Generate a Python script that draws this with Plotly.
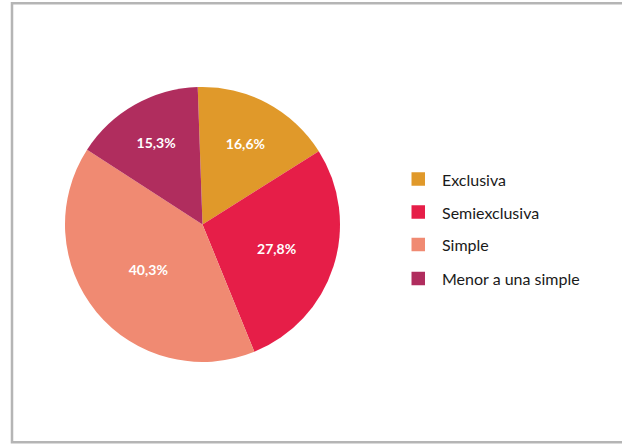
import plotly.graph_objects as go

categories = ["Exclusiva", "Semiexclusiva", "Simple", "Menor a una simple"]
values = [16.6, 27.8, 40.3, 15.3]
colors = ["#E0992A", "#E61E48", "#F08A72", "#B02D5E"]

W, H = 622, 444

def px(x):
    return x / W

def py(y):
    return 1 - y / H

fig = go.Figure(go.Pie(
    labels=categories,
    values=values,
    sort=False,
    direction="clockwise",
    rotation=-2,
    marker=dict(colors=colors, line=dict(width=0)),
    texttemplate="%{value:.1f}%",
    textposition="inside",
    insidetextorientation="horizontal",
    textfont=dict(family="Lato", size=14, color="white", weight="bold"),
    domain=dict(x=[px(65), px(340)], y=[py(362), py(87)]),
    showlegend=False,
    hoverinfo="label+percent",
))

# frame
shapes = [dict(type="rect", xref="paper", yref="paper",
               x0=px(12), x1=1.05, y0=py(442.3), y1=py(3.3),
               line=dict(color="#b5b5b5", width=2.5), fillcolor="rgba(0,0,0,0)")]

# manual legend
legend_y = [179, 212, 244.5, 278.5]
annotations = []
sq = 13.5
for cat, col, yc in zip(categories, colors, legend_y):
    shapes.append(dict(type="rect", xref="paper", yref="paper",
                       x0=px(411.5), x1=px(411.5 + sq),
                       y0=py(yc + sq / 2), y1=py(yc - sq / 2),
                       line=dict(width=0), fillcolor=col))
    annotations.append(dict(xref="paper", yref="paper", x=px(440), y=py(yc),
                            xanchor="left", yanchor="middle", showarrow=False,
                            text=cat, font=dict(family="Lato", size=16, color="#1a1a1a")))

fig.update_layout(
    width=W, height=H,
    margin=dict(l=0, r=0, t=0, b=0),
    paper_bgcolor="white",
    plot_bgcolor="white",
    separators=",.",
    shapes=shapes,
    annotations=annotations,
)

fig.write_html("out.html", config={"displayModeBar": False},
               post_script="document.body.style.margin='0';document.body.style.overflow='hidden';")
